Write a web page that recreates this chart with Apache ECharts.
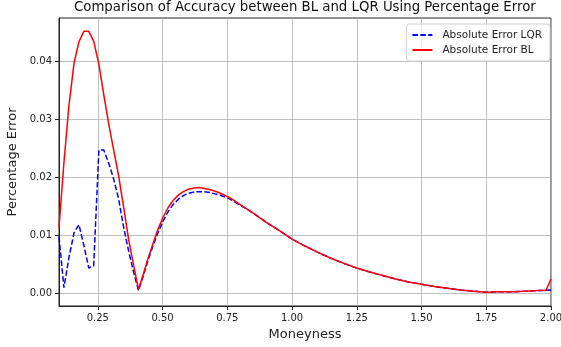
<!DOCTYPE html>
<html>
<head>
<meta charset="utf-8">
<script src="https://cdn.jsdelivr.net/npm/echarts@6/dist/echarts.min.js"></script>
<style>
  html, body { margin: 0; padding: 0; background: #fff; }
  #chart { width: 561px; height: 347px; }
</style>
</head>
<body>
<div id="chart"></div>
<script>
// moneyness grid
var moneyness = [
  0.100, 0.119, 0.138, 0.158, 0.177, 0.196, 0.215, 0.234, 0.254, 0.273,
  0.292, 0.311, 0.330, 0.349, 0.369, 0.388, 0.407, 0.426, 0.445, 0.465,
  0.484, 0.503, 0.522, 0.541, 0.561, 0.580, 0.599, 0.618, 0.637, 0.657,
  0.676, 0.695, 0.714, 0.733, 0.753, 0.772, 0.791,
  0.85, 0.90, 0.95, 1.00, 1.05, 1.10, 1.15, 1.20, 1.25, 1.30, 1.35,
  1.40, 1.45, 1.50, 1.55, 1.60, 1.65, 1.70, 1.75, 1.80, 1.85, 1.90,
  1.95, 1.981, 2.000
];

var errorLQR = [
  0.0097, 0.0009, 0.0060, 0.0104, 0.0118, 0.0082, 0.0043, 0.0047, 0.0247, 0.0247,
  0.0224, 0.0197, 0.0163, 0.0115, 0.0072, 0.0036, 0.0004, 0.0030, 0.0058, 0.0084,
  0.0106, 0.0125, 0.0141, 0.0153, 0.0162, 0.0168, 0.0172, 0.0174, 0.0175, 0.0175,
  0.0174, 0.0172, 0.0170, 0.0167, 0.0164, 0.0159, 0.0154,
  0.0138, 0.0122, 0.0108, 0.0093, 0.0081, 0.0070, 0.0060, 0.0051, 0.0043, 0.0036, 0.0030,
  0.0024, 0.0019, 0.0015, 0.0011, 0.0008, 0.0005, 0.0003, 0.0001, 0.0002, 0.0002, 0.0003,
  0.0004, 0.00045, 0.0005
];

var errorBL = [
  0.0113, 0.0225, 0.0322, 0.0397, 0.0434, 0.0452, 0.0452, 0.0435, 0.0395, 0.0342,
  0.0292, 0.0247, 0.0203, 0.0150, 0.0092, 0.0048, 0.0006, 0.0033, 0.0061, 0.0088,
  0.0112, 0.0132, 0.0148, 0.0160, 0.0169, 0.0175, 0.0179, 0.0181, 0.0182, 0.0181,
  0.0179, 0.0177, 0.0174, 0.0170, 0.0166, 0.0161, 0.0155,
  0.0138, 0.0122, 0.0108, 0.0093, 0.0081, 0.0070, 0.0060, 0.0051, 0.0043, 0.0036, 0.0030,
  0.0024, 0.0019, 0.0015, 0.0011, 0.0008, 0.0005, 0.0003, 0.0001, 0.0002, 0.0002, 0.0003,
  0.0004, 0.00045, 0.0024
];

var xTicks = [0.25, 0.50, 0.75, 1.00, 1.25, 1.50, 1.75, 2.00];
var yTicks = [0.00, 0.01, 0.02, 0.03, 0.04];

function pairs(ys) {
  return moneyness.map(function (x, i) { return [x, ys[i]]; });
}

var font = 'DejaVu Sans';
var chart = echarts.init(document.getElementById('chart'));

chart.setOption({
  animation: false,
  textStyle: { fontFamily: font },
  title: {
    text: 'Comparison of Accuracy between BL and LQR Using Percentage Error',
    left: 74,
    top: 1,
    padding: 0,
    textStyle: { fontFamily: font, fontSize: 13.3, fontWeight: 'normal', color: '#111' }
  },
  legend: {
    orient: 'vertical',
    right: 11,
    top: 24,
    padding: [5, 8, 5, 5],
    itemWidth: 20,
    itemHeight: 2,
    itemGap: 3,
    itemStyle: { opacity: 0, borderWidth: 0 },
    borderColor: '#d0d0d0',
    borderWidth: 1,
    borderRadius: 3,
    backgroundColor: 'rgba(255,255,255,0.8)',
    textStyle: { fontFamily: font, fontSize: 10.5, color: '#222', padding: [0, 0, 0, 5], lineHeight: 12 },
    data: ['Absolute Error LQR', 'Absolute Error BL']
  },
  grid: {
    left: 59, right: 10, top: 18, bottom: 41,
    outerBoundsMode: 'none',
    containLabel: false,
    show: true, borderColor: '#222', borderWidth: 1
  },
  xAxis: {
    type: 'value',
    min: 0.1,
    max: 2.0,
    name: 'Moneyness',
    nameLocation: 'middle',
    nameGap: 20,
    nameTextStyle: { fontFamily: font, fontSize: 13, color: '#222' },
    axisLine: { onZero: false, lineStyle: { color: '#222', width: 1 } },
    axisTick: { customValues: xTicks, length: 4, lineStyle: { color: '#222' } },
    axisLabel: {
      customValues: xTicks, margin: 7,
      fontFamily: font, fontSize: 10, color: '#222',
      formatter: function (v) { return v.toFixed(2); }
    },
    splitLine: { show: true, lineStyle: { color: '#b0b0b0', width: 0.8 } }
  },
  yAxis: {
    type: 'value',
    min: -0.00226,
    max: 0.0475,
    name: 'Percentage Error',
    nameLocation: 'middle',
    nameGap: 30,
    nameTextStyle: { fontFamily: font, fontSize: 13, color: '#222' },
    axisLine: { show: true, onZero: false, lineStyle: { color: '#222', width: 1 } },
    axisTick: { show: true, customValues: yTicks, length: 4, lineStyle: { color: '#222' } },
    axisLabel: {
      customValues: yTicks, margin: 7,
      fontFamily: font, fontSize: 10, color: '#222',
      formatter: function (v) { return v.toFixed(2); }
    },
    splitLine: { show: true, lineStyle: { color: '#b0b0b0', width: 0.8 } }
  },
  series: [
    {
      name: 'Absolute Error LQR',
      type: 'line',
      symbol: 'none',
      data: pairs(errorLQR),
      lineStyle: { color: '#0000ff', width: 1.5, type: [5.5, 2.4] },
      itemStyle: { color: '#0000ff' }
    },
    {
      name: 'Absolute Error BL',
      type: 'line',
      symbol: 'none',
      data: pairs(errorBL),
      lineStyle: { color: '#ff0000', width: 1.5 },
      itemStyle: { color: '#ff0000' }
    }
  ]
});
</script>
</body>
</html>
